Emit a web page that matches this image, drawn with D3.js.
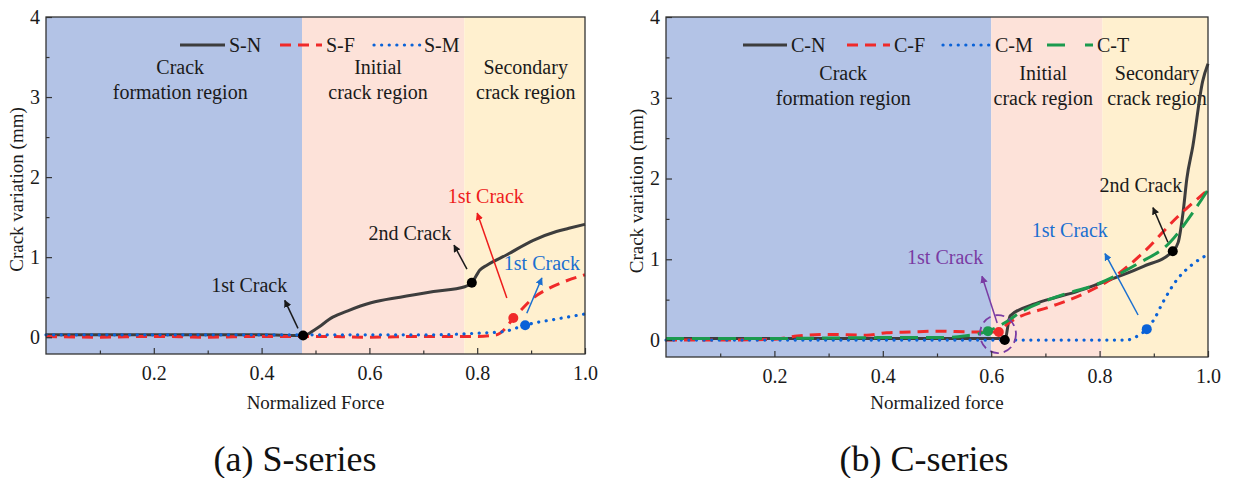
<!DOCTYPE html>
<html>
<head>
<meta charset="utf-8">
<script src="https://cdn.jsdelivr.net/npm/d3@7"></script>
<style>
  body { margin: 0; background: #fff; }
  svg text { font-family: "Liberation Serif", "Times New Roman", Times, "DejaVu Serif", serif !important; }
</style>
</head>
<body>
<div id="chart"></div>
<script>

// ---- data (normalized force, crack variation mm) ----
const sN = [[0,0.03],[0.1,0.03],[0.2,0.03],[0.3,0.03],[0.4,0.03],[0.477,0.02],[0.5,0.1],[0.532,0.25],[0.56,0.33],[0.603,0.43],[0.657,0.5],[0.719,0.57],[0.777,0.63],[0.79,0.68],[0.805,0.84],[0.818,0.9],[0.855,1.03],[0.904,1.21],[0.947,1.32],[0.97,1.36],[1.0,1.41]];
const sF = [[0,0.01],[0.1,0.0],[0.2,0.01],[0.3,0.0],[0.4,0.01],[0.5,0.01],[0.6,0.0],[0.7,0.01],[0.8,0.01],[0.836,0.03],[0.855,0.13],[0.867,0.24],[0.88,0.33],[0.904,0.49],[0.93,0.6],[0.96,0.69],[1.0,0.78]];
const sM = [[0,0.03],[0.1,0.03],[0.2,0.03],[0.3,0.03],[0.4,0.03],[0.5,0.03],[0.6,0.03],[0.719,0.03],[0.8,0.05],[0.849,0.07],[0.875,0.12],[0.889,0.15],[0.95,0.23],[1.0,0.29]];

const cN = [[0,0.02],[0.2,0.02],[0.4,0.02],[0.55,0.02],[0.615,0.02],[0.625,0.0],[0.635,0.3],[0.677,0.44],[0.72,0.53],[0.758,0.6],[0.8,0.7],[0.832,0.78],[0.88,0.91],[0.935,1.1],[0.945,1.21],[0.954,1.58],[0.961,2.0],[0.972,2.4],[0.99,3.2],[1.0,3.42]];
const cF = [[0,0.0],[0.1,0.0],[0.2,0.01],[0.242,0.05],[0.3,0.07],[0.37,0.06],[0.407,0.09],[0.45,0.1],[0.5,0.11],[0.567,0.1],[0.614,0.1],[0.63,0.2],[0.647,0.27],[0.708,0.41],[0.77,0.57],[0.82,0.75],[0.88,1.08],[0.943,1.52],[1.0,1.86]];
const cM = [[0,0.0],[0.2,0.0],[0.4,0.0],[0.6,0.0],[0.8,0.0],[0.85,0.0],[0.87,0.05],[0.887,0.135],[0.9,0.25],[0.917,0.47],[0.943,0.75],[0.97,0.93],[1.0,1.06]];
const cT = [[0,0.02],[0.2,0.02],[0.4,0.03],[0.5,0.03],[0.55,0.05],[0.594,0.11],[0.629,0.23],[0.653,0.34],[0.727,0.55],[0.795,0.69],[0.869,0.94],[0.93,1.21],[0.972,1.58],[1.0,1.86]];

// crack markers [x, y, series]
const sPoints = [[0.477,0.02,'N'],[0.79,0.68,'N'],[0.867,0.24,'F'],[0.889,0.15,'M']];
const cPoints = [[0.594,0.11,'T'],[0.614,0.10,'F'],[0.625,0.0,'N'],[0.887,0.135,'M'],[0.935,1.1,'N']];

// region boundaries on normalized force
const sRegions = [0, 0.475, 0.776, 1];
const cRegions = [0, 0.6, 0.805, 1];
const regionNames = [['Crack','formation region'],['Initial','crack region'],['Secondary','crack region']];

const xTicks = [0.2, 0.4, 0.6, 0.8, 1.0];
const xMinor = [0.1, 0.3, 0.5, 0.7, 0.9];
const yTicks = [0, 1, 2, 3, 4];
const yMinor = [0.5, 1.5, 2.5, 3.5];

// annotations: label, colour key, text pos, arrow from -> to (data units)
const sNotes = [
  {t:'1st Crack', k:'N', tx:0.377, ty:0.5625, x1:0.4675, y1:0.11, x2:0.443, y2:0.46},
  {t:'2nd Crack', k:'N', tx:0.675, ty:1.21, x1:0.781, y1:0.85, x2:0.757, y2:1.15},
  {t:'1st Crack', k:'F', tx:0.816, ty:1.675, x1:0.855, y1:0.49, x2:0.80, y2:1.55},
  {t:'1st Crack', k:'M', tx:0.92, ty:0.84, x1:0.892, y1:0.30, x2:0.92, y2:0.74}
];
const cNotes = [
  {t:'2nd Crack', k:'N', tx:0.876, ty:1.83, x1:0.926, y1:1.21, x2:0.8985, y2:1.64},
  {t:'1st Crack', k:'M', tx:0.745, ty:1.27, x1:0.871, y1:0.31, x2:0.81, y2:1.07},
  {t:'1st Crack', k:'P', tx:0.515, ty:0.94, x1:0.611, y1:0.21, x2:0.583, y2:0.79}
];

const colors = {N:'#3d3d3d', F:'#f02a2a', M:'#0a62d8', T:'#1b9a4e', P:'#7a3ba3'};
const noteColors = {N:'#1a1a1a', F:'#ee1c1c', M:'#1a6fd0', P:'#7a3ba3'};
const dashes = {N:null, F:'11,7', M:'0.1,7.5', T:'18,8'};
const regionFill = ['#b3c3e6', '#fde2d9', '#fff0cf'];

const W = 1234, H = 478;
const svg = d3.select('#chart').append('svg').attr('width', W).attr('height', H);

// arrow heads
const defs = svg.append('defs');
Object.keys(noteColors).forEach(k => {
  defs.append('marker')
    .attr('id', 'arr' + k)
    .attr('viewBox', '0 0 10 10')
    .attr('refX', 9).attr('refY', 5)
    .attr('markerWidth', 5).attr('markerHeight', 5)
    .attr('orient', 'auto')
    .append('path').attr('d', 'M0,0 L10,5 L0,10 z').attr('fill', noteColors[k]);
});

function drawPanel(p) {
  const x = d3.scaleLinear().domain([0, 1]).range([p.left, p.right]);
  const y = d3.scaleLinear().domain([-0.21, 4]).range([p.bottom, p.top]);
  const g = svg.append('g');

  // regions
  for (let i = 0; i < 3; i++) {
    g.append('rect')
      .attr('x', x(p.regions[i])).attr('y', y(4))
      .attr('width', x(p.regions[i+1]) - x(p.regions[i]))
      .attr('height', y(-0.21) - y(4))
      .attr('fill', regionFill[i]);
    regionNames[i].forEach((s, j) => {
      g.append('text')
        .attr('x', x(p.labelX[i])).attr('y', p.labelY + j * 25)
        .attr('text-anchor', 'middle')
        .style('font-size', '20px').attr('fill', '#1a1a1a')
        .text(s);
    });
  }

  // curves
  const line = d3.line().x(d => x(d[0])).y(d => y(d[1])).curve(d3.curveMonotoneX);
  p.series.forEach(s => {
    g.append('path')
      .datum(s.data)
      .attr('d', line)
      .attr('fill', 'none')
      .attr('stroke', colors[s.k])
      .attr('stroke-width', s.k === 'M' ? 3.2 : 3)
      .attr('stroke-linecap', s.k === 'M' ? 'round' : 'butt')
      .attr('stroke-dasharray', dashes[s.k]);
  });

  // purple ring
  if (p.ring) {
    g.append('ellipse')
      .attr('cx', x(p.ring[0])).attr('cy', y(p.ring[1]))
      .attr('rx', 18).attr('ry', 19)
      .attr('fill', 'none').attr('stroke', colors.P)
      .attr('stroke-width', 1.8).attr('stroke-dasharray', '9,5');
  }

  // crack points
  g.selectAll('.pt').data(p.points).enter().append('circle')
    .attr('cx', d => x(d[0])).attr('cy', d => y(d[1]))
    .attr('r', 5)
    .attr('fill', d => d[2] === 'N' ? '#000' : colors[d[2]]);

  // annotations
  p.notes.forEach(n => {
    g.append('line')
      .attr('x1', x(n.x1)).attr('y1', y(n.y1))
      .attr('x2', x(n.x2)).attr('y2', y(n.y2))
      .attr('stroke', noteColors[n.k]).attr('stroke-width', 1.5)
      .attr('marker-end', `url(#arr${n.k})`);
    g.append('text')
      .attr('x', x(n.tx)).attr('y', y(n.ty))
      .attr('text-anchor', 'middle')
      .style('font-size', '20px')
      .attr('fill', noteColors[n.k])
      .text(n.t);
  });

  // frame
  g.append('rect')
    .attr('x', p.left).attr('y', p.top)
    .attr('width', p.right - p.left).attr('height', p.bottom - p.top)
    .attr('fill', 'none').attr('stroke', '#333').attr('stroke-width', 1.3);

  // axes (ticks inward)
  g.append('g').attr('transform', `translate(0,${p.bottom})`)
    .call(d3.axisBottom(x).tickValues(xTicks).tickFormat(d3.format('.1f')).tickSize(-6).tickPadding(12));
  g.append('g').attr('transform', `translate(0,${p.bottom})`)
    .call(d3.axisBottom(x).tickValues(xMinor).tickFormat('').tickSize(-3.5));
  g.append('g').attr('transform', `translate(${p.left},0)`)
    .call(d3.axisLeft(y).tickValues(yTicks).tickFormat(d3.format('d')).tickSize(-6).tickPadding(6));
  g.append('g').attr('transform', `translate(${p.left},0)`)
    .call(d3.axisLeft(y).tickValues(yMinor).tickFormat('').tickSize(-3.5));
  g.selectAll('.domain').remove();
  g.selectAll('.tick line').attr('stroke', '#333').attr('stroke-width', 1.2);
  g.selectAll('.tick text').style('font-size', '20px').attr('fill', '#1a1a1a');

  // legend
  p.legend.forEach(l => {
    g.append('line')
      .attr('x1', l.x1).attr('x2', l.x2).attr('y1', 45).attr('y2', 45)
      .attr('stroke', colors[l.k])
      .attr('stroke-width', l.k === 'M' ? 3.2 : 3)
      .attr('stroke-linecap', l.k === 'M' ? 'round' : 'butt')
      .attr('stroke-dasharray', l.k === 'T' ? '18,20' : dashes[l.k]);
    g.append('text')
      .attr('x', l.x2 + 4).attr('y', 52)
      .style('font-size', '20px').attr('fill', '#1a1a1a')
      .text(l.name);
  });

  // axis titles and caption
  svg.append('text')
    .attr('transform', `translate(${p.left - 23},${(p.top + p.bottom) / 2 + 4}) rotate(-90)`)
    .attr('text-anchor', 'middle')
    .style('font-size', '19px').attr('fill', '#1a1a1a')
    .text('Crack variation (mm)');
  svg.append('text')
    .attr('x', (p.left + p.right) / 2).attr('y', 409)
    .attr('text-anchor', 'middle')
    .style('font-size', '19px').attr('fill', '#1a1a1a')
    .text(p.xTitle);
  svg.append('text')
    .attr('x', p.captionX).attr('y', 471)
    .attr('text-anchor', 'middle')
    .style('font-size', '36px').attr('fill', '#111')
    .text(p.caption);
}

drawPanel({
  left: 46, right: 585, top: 17, bottom: 354,
  regions: sRegions, labelX: [0.249, 0.616, 0.89], labelY: 74,
  series: [{k:'N', data:sN}, {k:'F', data:sF}, {k:'M', data:sM}],
  points: sPoints, notes: sNotes,
  legend: [{k:'N', name:'S-N', x1:180, x2:225}, {k:'F', name:'S-F', x1:280, x2:322}, {k:'M', name:'S-M', x1:374, x2:420}],
  xTitle: 'Normalized Force', caption: '(a) S-series', captionX: 295
});

drawPanel({
  left: 666, right: 1208, top: 17, bottom: 357,
  regions: cRegions, labelX: [0.327, 0.696, 0.906], labelY: 80,
  series: [{k:'N', data:cN}, {k:'F', data:cF}, {k:'M', data:cM}, {k:'T', data:cT}],
  points: cPoints, notes: cNotes, ring: [0.6125, 0.074],
  legend: [{k:'N', name:'C-N', x1:743, x2:787}, {k:'F', name:'C-F', x1:847, x2:890}, {k:'M', name:'C-M', x1:943, x2:991}, {k:'T', name:'C-T', x1:1047, x2:1093}],
  xTitle: 'Normalized force', caption: '(b) C-series', captionX: 924
});
</script>
</body>
</html>
